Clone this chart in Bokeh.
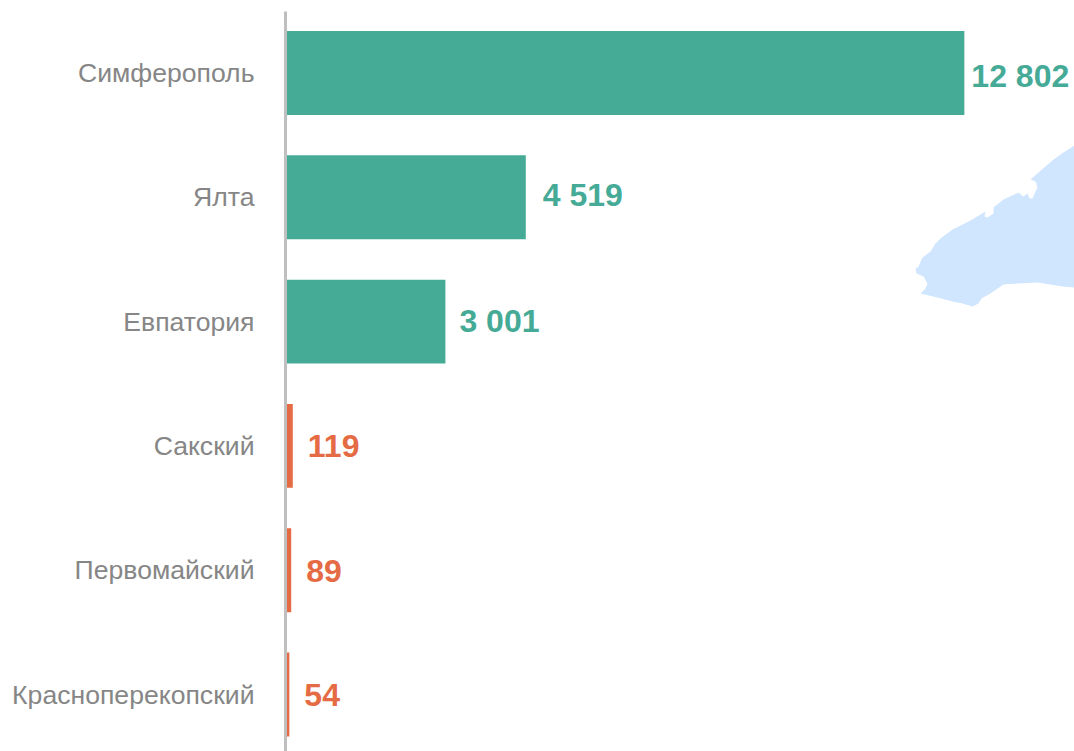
from bokeh.plotting import figure
from bokeh.models import Range1d, ColumnDataSource, FixedTicker, LinearAxis
from bokeh.core.properties import value
from bokeh.embed import file_html
from bokeh.resources import INLINE

categories = ["Красноперекопский", "Первомайский", "Сакский", "Евпатория", "Ялта", "Симферополь"]
values = [54, 89, 119, 3001, 4519, 12802]
labels = ["54", "89", "119", "3 001", "4 519", "12 802"]
TEAL = "#45AA96"
ORANGE = "#E56B45"
colors = [ORANGE, ORANGE, ORANGE, TEAL, TEAL, TEAL]
label_dx = [15, 15, 15, 14, 17, 7]
label_dy = [0, 1, 0, -1, -2, 3]

# Decorative map fragment, in page pixels of the picture
map_x = [1074, 1063, 1053, 1030, 1035, 1037, 1034, 1032, 1029, 1027, 1023, 1019, 1018, 1003, 993, 993, 987, 984, 985, 970,
         952, 940, 935, 930, 922, 918, 915, 916, 923, 927, 925, 920, 937, 952, 962, 972, 978, 981, 990, 1003, 1017, 1037, 1050, 1062, 1074]
map_y = [145, 152, 159, 179, 181, 187, 193, 198, 198, 193, 196, 193, 192, 199, 207, 213, 217, 216, 211, 220,
         229, 238, 243, 251, 257, 266, 268, 273, 276, 283, 288, 293, 297, 301, 303, 306, 303, 298, 293, 284, 283, 282, 284, 286, 287]

source = ColumnDataSource(dict(
    y=list(range(len(categories))), v=values, c=colors, t=labels, dx=label_dx, dy=label_dy,
))

W, H = 1074, 751
LEFT, TOP = 285, 11
px_per_unit = 0.05295
row_px = 124.3
bottom_row_px = 694

p = figure(
    width=W, height=H, output_backend="svg", toolbar_location=None,
    x_axis_type=None, y_axis_type=None, min_border_left=LEFT, min_border_top=TOP,
    min_border_right=0, min_border_bottom=0, outline_line_color=None,
    background_fill_color="white", border_fill_color="white",
)
p.x_range = Range1d(-(286 - LEFT) / px_per_unit, (W - 286) / px_per_unit)
p.y_range = Range1d(-(H - bottom_row_px) / row_px, (bottom_row_px - TOP) / row_px)
p.extra_x_ranges["px"] = Range1d(LEFT, W)
p.extra_y_ranges["px"] = Range1d(H, TOP)
p.grid.visible = False

p.patch(map_x, map_y, x_range_name="px", y_range_name="px", fill_color="#D0E6FE", line_color=None)
p.hbar(y="y", right="v", left=0, height=0.675, fill_color="c", line_color=None, source=source)
p.text(x="v", y="y", text="t", x_offset="dx", y_offset="dy", text_color="c", source=source,
       text_font=value("Liberation Sans"), text_font_style="bold", text_font_size="32px",
       text_baseline="middle", text_align="left")

ax = LinearAxis(ticker=FixedTicker(ticks=list(range(len(categories)))),
                major_label_overrides={i: c for i, c in enumerate(categories)})
ax.axis_line_color = "#BFBFBF"
ax.axis_line_width = 3
ax.major_tick_line_color = None
ax.minor_tick_line_color = None
ax.major_tick_out = 0
ax.major_tick_in = 0
ax.major_label_standoff = 31
ax.major_label_text_font = "Liberation Sans"
ax.major_label_text_font_size = "26.6px"
ax.major_label_text_color = "#868686"
p.add_layout(ax, "left")

open("out.html", "w").write(file_html(p, INLINE))
